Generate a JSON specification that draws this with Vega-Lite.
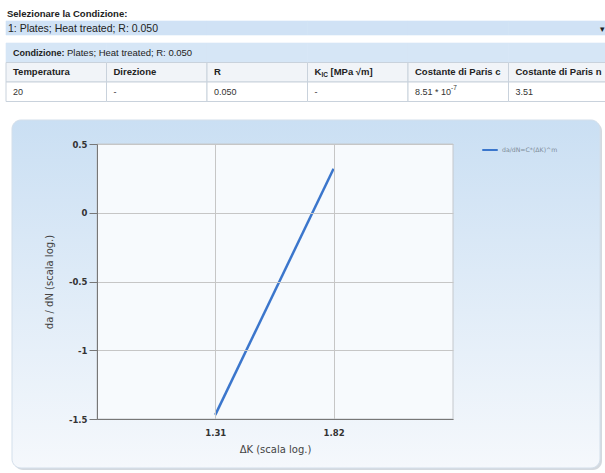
{
  "$schema": "https://vega.github.io/schema/vega-lite/v6.json",
  "width": 356,
  "height": 275,
  "autosize": {"type": "none"},
  "padding": {"left": 97, "top": 144, "right": 152, "bottom": 54},
  "background": "#ffffff",
  "config": {"view": {"stroke": null}, "font": "Liberation Sans"},
  "datasets": {
    "curva": [
      {"logK": 1.31, "logdadn": -1.47, "serie": "da/dN=C*(ΔK)^m"},
      {"logK": 1.82, "logdadn": 0.32, "serie": "da/dN=C*(ΔK)^m"}
    ],
    "celle": [
      {"row": "dropdown", "col": "temperatura"}, {"row": "dropdown", "col": "direzione"}, {"row": "dropdown", "col": "r"},
      {"row": "dropdown", "col": "kic"}, {"row": "dropdown", "col": "paris_c"}, {"row": "dropdown", "col": "paris_n"},
      {"row": "header", "col": "temperatura"}, {"row": "header", "col": "direzione"}, {"row": "header", "col": "r"},
      {"row": "header", "col": "kic"}, {"row": "header", "col": "paris_c"}, {"row": "header", "col": "paris_n"},
      {"row": "colheads", "col": "temperatura"}, {"row": "colheads", "col": "direzione"}, {"row": "colheads", "col": "r"},
      {"row": "colheads", "col": "kic"}, {"row": "colheads", "col": "paris_c"}, {"row": "colheads", "col": "paris_n"},
      {"row": "data", "col": "temperatura"}, {"row": "data", "col": "direzione"}, {"row": "data", "col": "r"},
      {"row": "data", "col": "kic"}, {"row": "data", "col": "paris_c"}, {"row": "data", "col": "paris_n"}
    ]
  },
  "layer": [
    {
      "layer": [
        {
          "data": {"values": [{}]},
          "mark": {"type": "rect", "xOffset": -83, "x2Offset": 149, "yOffset": -22, "y2Offset": 51, "cornerRadius": 9, "fill": "#aab4bf", "opacity": 0.5},
          "encoding": {"x": {"value": 0}, "x2": {"value": "width"}, "y": {"value": 0}, "y2": {"value": "height"}}
        },
        {
          "data": {"values": [{}]},
          "mark": {
            "type": "rect", "xOffset": -85, "x2Offset": 147, "yOffset": -24, "y2Offset": 49, "cornerRadius": 9,
            "fill": {"gradient": "linear", "x1": 0, "y1": 0, "x2": 0, "y2": 1,
              "stops": [{"offset": 0, "color": "#cadff3"}, {"offset": 0.55, "color": "#e2edf8"}, {"offset": 1, "color": "#f5f8fc"}]},
            "stroke": "#d3dfeb", "strokeWidth": 1
          },
          "encoding": {"x": {"value": 0}, "x2": {"value": "width"}, "y": {"value": 0}, "y2": {"value": "height"}}
        },
        {
          "data": {"values": [{}]},
          "mark": {"type": "rect", "fill": "#f7fafd", "stroke": "#c4c8cc", "strokeWidth": 1},
          "encoding": {"x": {"value": 0}, "x2": {"value": "width"}, "y": {"value": 0}, "y2": {"value": "height"}}
        },
        {
          "data": {"name": "curva"},
          "mark": {"type": "line", "strokeWidth": 2.5},
          "encoding": {
            "x": {
              "field": "logK", "type": "quantitative",
              "scale": {"domain": [0.8, 2.335], "nice": false, "zero": false},
              "axis": {
                "title": "ΔK (scala log.)", "values": [1.31, 1.82], "format": ".2f",
                "grid": true, "gridColor": "#c6c6c6", "ticks": false,
                "domainColor": "#777777", "labelFont": "DejaVu Sans", "labelFontWeight": "bold", "labelFontSize": 8.5, "labelColor": "#333333",
                "labelPadding": 9, "titleFont": "DejaVu Sans", "titleFontSize": 10, "titleFontWeight": "normal", "titleColor": "#444444",
                "titlePadding": 8, "zindex": 1
              }
            },
            "y": {
              "field": "logdadn", "type": "quantitative",
              "scale": {"domain": [-1.5, 0.5], "nice": false, "zero": false},
              "axis": {
                "title": "da / dN (scala log.)", "values": [-1.5, -1, -0.5, 0, 0.5],
                "labelExpr": "replace(format(datum.value, '~g'), '−', '-')",
                "grid": true, "gridColor": "#c6c6c6", "tickSize": 8, "tickColor": "#777777",
                "domainColor": "#777777", "labelFont": "DejaVu Sans", "labelFontWeight": "bold", "labelFontSize": 8.5, "labelColor": "#333333",
                "labelPadding": 2, "titleFont": "DejaVu Sans", "titleFontSize": 10, "titleFontWeight": "normal", "titleColor": "#444444",
                "titlePadding": 14, "zindex": 1
              }
            },
            "color": {
              "field": "serie", "type": "nominal",
              "scale": {"range": ["#3b76cc"]},
              "legend": {
                "orient": "none", "legendX": 384, "legendY": -3, "title": null, "padding": 0,
                "symbolType": "stroke", "symbolSize": 240, "symbolStrokeWidth": 2,
                "labelFont": "DejaVu Sans", "labelFontSize": 6.2, "labelColor": "#7d8a97", "labelOffset": 3
              }
            }
          }
        }
      ]
    },
    {
      "encoding": {
        "x": {
          "field": "col", "type": "nominal", "bandPosition": 0,
          "scale": {"domain": ["temperatura", "direzione", "r", "kic", "paris_c", "paris_n"], "range": [-91, 512], "paddingInner": 0, "paddingOuter": 0},
          "axis": null
        },
        "y": {
          "field": "row", "type": "nominal",
          "scale": {"domain": ["label", "dropdown", "header", "colheads", "data"], "range": [-140, -42.5], "paddingInner": 0, "paddingOuter": 0},
          "axis": null
        }
      },
      "layer": [
        {
          "data": {"name": "celle"},
          "transform": [{"filter": "datum.row === 'dropdown'"}],
          "mark": {"type": "rect", "height": {"band": 0.72}, "yOffset": -5.25, "y2Offset": -5.25, "fill": "#d0e2f5", "stroke": "#d0e2f5", "strokeWidth": 0.6}
        },
        {
          "data": {"name": "celle"},
          "transform": [{"filter": "datum.row === 'header'"}],
          "mark": {"type": "rect", "fill": "#d6e6f6", "stroke": "#d6e6f6", "strokeWidth": 0.6}
        },
        {
          "data": {"name": "celle"},
          "transform": [{"filter": "datum.row === 'colheads'"}],
          "mark": {"type": "rect", "fill": "#f1f4f8", "stroke": "#c9d2dc", "strokeWidth": 1}
        },
        {
          "data": {"name": "celle"},
          "transform": [{"filter": "datum.row === 'data'"}],
          "mark": {"type": "rect", "fill": "#ffffff", "stroke": "#c9d2dc", "strokeWidth": 1}
        },
        {
          "data": {"values": [{"row": "label", "col": "temperatura", "text": "Selezionare la Condizione:"}]},
          "mark": {"type": "text", "align": "left", "baseline": "middle", "dx": 1, "fontSize": 9.5, "fontWeight": "bold", "color": "#222222"},
          "encoding": {"text": {"field": "text"}}
        },
        {
          "data": {"values": [{"row": "dropdown", "col": "temperatura", "text": "1: Plates; Heat treated; R: 0.050"}]},
          "mark": {"type": "text", "align": "left", "baseline": "middle", "dx": 2, "dy": -4.75, "fontSize": 10.5, "color": "#222222"},
          "encoding": {"text": {"field": "text"}}
        },
        {
          "data": {"values": [{"row": "dropdown", "col": "paris_n", "text": "▾"}]},
          "mark": {"type": "text", "align": "left", "baseline": "middle", "dx": 91, "dy": -4.75, "fontSize": 9, "color": "#222222"},
          "encoding": {"text": {"field": "text"}}
        },
        {
          "data": {"values": [{"row": "header", "col": "temperatura", "text": "Condizione:"}]},
          "mark": {"type": "text", "align": "left", "baseline": "middle", "dx": 7, "fontSize": 9, "fontWeight": "bold", "color": "#222222"},
          "encoding": {"text": {"field": "text"}}
        },
        {
          "data": {"values": [{"row": "header", "col": "temperatura", "text": "Plates; Heat treated; R: 0.050"}]},
          "mark": {"type": "text", "align": "left", "baseline": "middle", "dx": 61, "fontSize": 9.5, "color": "#222222"},
          "encoding": {"text": {"field": "text"}}
        },
        {
          "data": {"values": [
            {"row": "colheads", "col": "temperatura", "text": "Temperatura"},
            {"row": "colheads", "col": "direzione", "text": "Direzione"},
            {"row": "colheads", "col": "r", "text": "R"},
            {"row": "colheads", "col": "kic", "text": "K"},
            {"row": "colheads", "col": "paris_c", "text": "Costante di Paris c"},
            {"row": "colheads", "col": "paris_n", "text": "Costante di Paris n"}
          ]},
          "mark": {"type": "text", "align": "left", "baseline": "middle", "dx": 7, "fontSize": 9.5, "fontWeight": "bold", "color": "#222222"},
          "encoding": {"text": {"field": "text"}}
        },
        {
          "data": {"values": [{"row": "colheads", "col": "kic", "text": "IC"}]},
          "mark": {"type": "text", "align": "left", "baseline": "middle", "dx": 14, "dy": 3, "fontSize": 6.5, "fontWeight": "bold", "color": "#222222"},
          "encoding": {"text": {"field": "text"}}
        },
        {
          "data": {"values": [{"row": "colheads", "col": "kic", "text": "[MPa √m]"}]},
          "mark": {"type": "text", "align": "left", "baseline": "middle", "dx": 23, "fontSize": 9.5, "fontWeight": "bold", "color": "#222222"},
          "encoding": {"text": {"field": "text"}}
        },
        {
          "data": {"values": [
            {"row": "data", "col": "temperatura", "text": "20"},
            {"row": "data", "col": "direzione", "text": "-"},
            {"row": "data", "col": "r", "text": "0.050"},
            {"row": "data", "col": "kic", "text": "-"},
            {"row": "data", "col": "paris_c", "text": "8.51 * 10"},
            {"row": "data", "col": "paris_n", "text": "3.51"}
          ]},
          "mark": {"type": "text", "align": "left", "baseline": "middle", "dx": 7, "fontSize": 9, "color": "#333333"},
          "encoding": {"text": {"field": "text"}}
        },
        {
          "data": {"values": [{"row": "data", "col": "paris_c", "text": "-7"}]},
          "mark": {"type": "text", "align": "left", "baseline": "middle", "dx": 43, "dy": -3.5, "fontSize": 6.5, "color": "#333333"},
          "encoding": {"text": {"field": "text"}}
        }
      ]
    }
  ],
  "resolve": {"scale": {"x": "independent", "y": "independent"}}
}
